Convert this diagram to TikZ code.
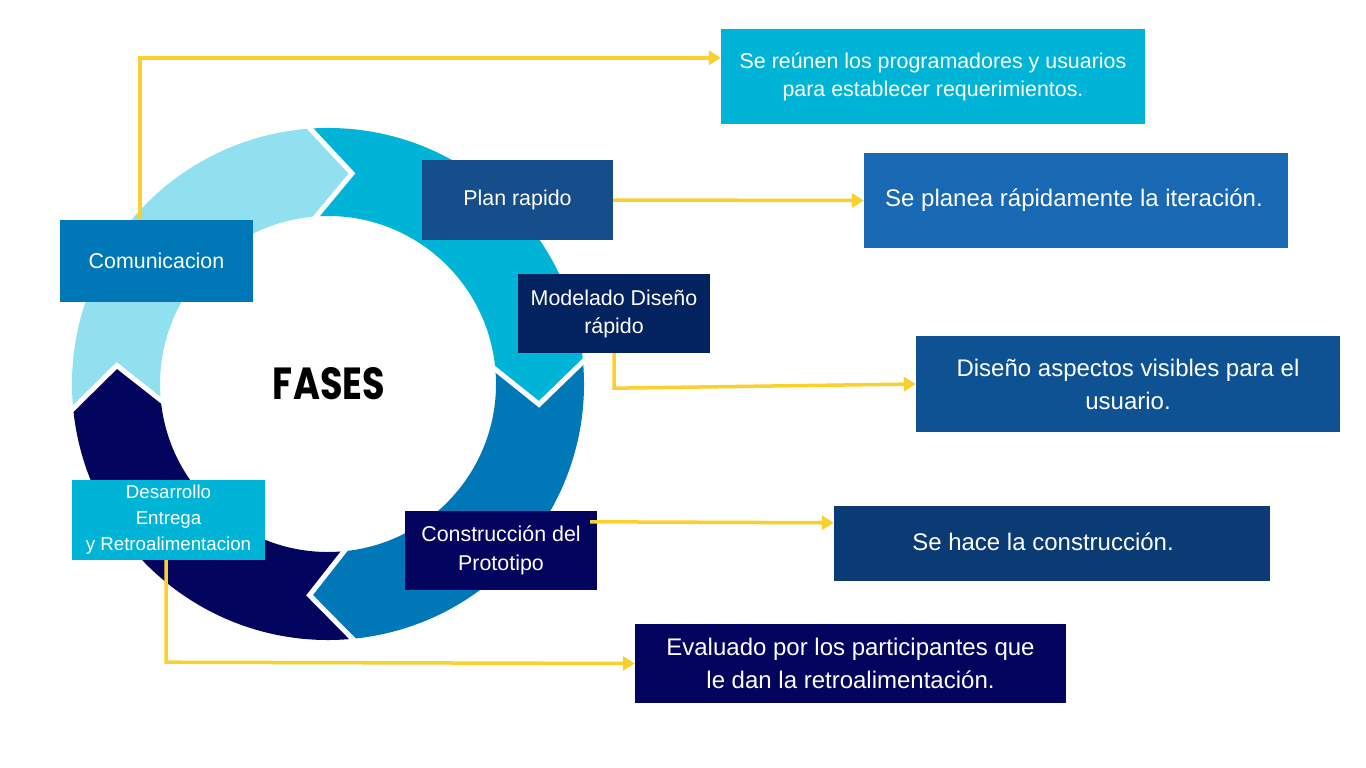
\documentclass[tikz,border=0pt]{standalone}
\usepackage{fontspec}
\usepackage{graphicx}
\setmainfont{Liberation Sans}
\newfontfamily\fasesfont{Poppins}
\usetikzlibrary{arrows.meta,calc}
\definecolor{lightb}{HTML}{90E0EF}
\definecolor{cyanb}{HTML}{00B4D8}
\definecolor{midb}{HTML}{0077B6}
\definecolor{navy}{HTML}{03045E}
\definecolor{planc}{RGB}{21,78,138}
\definecolor{modc}{RGB}{3,34,96}
\definecolor{stwo}{RGB}{24,104,180}
\definecolor{sthree}{RGB}{14,82,148}
\definecolor{sfour}{RGB}{11,59,117}
\definecolor{yel}{RGB}{250,208,44}
\tikzset{
  box/.style={rectangle, inner sep=0pt, text=white, align=center},
  phase/.style={box, font=\fontsize{21.4}{28}\selectfont},
  desc/.style={box, font=\fontsize{24}{33}\selectfont},
  conn/.style={draw=yel, line width=3.5pt, -{Triangle[length=12pt,width=14pt]}}
}
\begin{document}
\begin{tikzpicture}[x=1pt,y=-1pt]
\useasboundingbox[fill=white] (0,0) rectangle (1366,768);
% ring
\begin{scope}[shift={(328,384)}, yscale=-1]
\def\Ro{256}\def\Ri{168}\def\Rm{212}\def\dd{10.5}
\foreach \a/\b/\c in {185.5/94/lightb, 94/5/cyanb, 5/-84.5/midb, -84.5/-174.5/navy}{
  \fill[\c] (\a:\Ro) arc[start angle=\a, end angle=\b, radius=\Ro]
    -- (\b-\dd:\Rm) -- (\b:\Ri) arc[start angle=\b, end angle=\a, radius=\Ri]
    -- (\a-\dd:\Rm) -- cycle;
}
\foreach \b in {94,5,-84.5,-174.5}{
  \draw[white, line width=5pt]
    ($(\b-\dd:\Rm)!1.25!(\b:\Ro)$) -- (\b-\dd:\Rm) -- ($(\b-\dd:\Rm)!1.25!(\b:\Ri)$);
}
\end{scope}
\node (fases) at (329,384) {\resizebox{112pt}{32pt}{\fasesfont\bfseries FASES}};
% phase boxes
\node[phase, fill=midb, minimum width=193, minimum height=82] (com) at (156.5,261) {Comunicacion};
\node[phase, fill=planc, minimum width=191, minimum height=80] (plan) at (517.5,200) {Plan rapido};
\node[phase, fill=modc, minimum width=192, minimum height=79] (mod) at (614,313.5) {Modelado Diseño\\rápido};
\node[box, font=\fontsize{18.7}{26}\selectfont, fill=cyanb, minimum width=193, minimum height=80] (des) at (168.5,520) {Desarrollo\\Entrega\\y Retroalimentacion};
\node[phase, font=\fontsize{21.4}{29}\selectfont, fill=navy, minimum width=192, minimum height=79] (con) at (501,550.5) {Construcción del\\Prototipo};
% description boxes
\node[box, font=\fontsize{21.4}{28}\selectfont, fill=cyanb, minimum width=424, minimum height=95] (s1) at (933,76.5) {Se reúnen los programadores y usuarios\\para establecer requerimientos.};
\node[desc, fill=stwo, minimum width=424, minimum height=95] (s2) at (1076,200.5) {\raisebox{2.5pt}{Se planea rápidamente la iteración.\hspace{4pt}}};
\node[desc, fill=sthree, minimum width=424, minimum height=96] (s3) at (1128,384) {Diseño aspectos visibles para el\\usuario.};
\node[desc, fill=sfour, minimum width=436, minimum height=75] (s4) at (1052,543.5) {\raisebox{4pt}{Se hace la construcción.\hspace{18pt}}};
\node[desc, fill=navy, minimum width=431, minimum height=79] (s5) at (850.5,663.5) {Evaluado por los participantes que\\le dan la retroalimentación.};
% connectors
\coordinate (c1s) at ($(com.north)+(-16.5,0)$);
\coordinate (t1) at ($(s1.north west)+(0,29)$);
\draw[conn] (c1s) |- (t1);
\draw[conn] (plan.east) -- (s2.west);
\draw[conn] (mod.south) -- ++(0,35) -- (s3.west);
\coordinate (c4s) at ($(con.north east)+(-7,11)$);
\coordinate (t4) at ($(s4.north west)+(0,17)$);
\draw[conn] (c4s) -- (t4);
\coordinate (c5s) at ($(des.south)+(-2.5,0)$);
\draw[conn] (c5s) -- ++(0,102) -- (s5.west);
\end{tikzpicture}
\end{document}
